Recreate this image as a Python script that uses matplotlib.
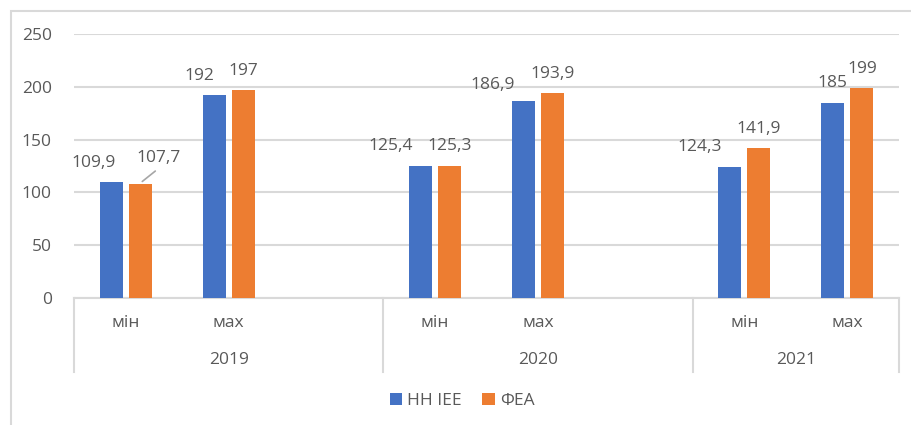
import numpy as np
import matplotlib.pyplot as plt
from matplotlib.patches import Rectangle

# data
years = ['2019', '2020', '2021']
sub_labels = ['мін', 'мах', '', 'мін', 'мах', '', 'мін', 'мах']
series_names = ['НН ІЕЕ', 'ФЕА']
nn_iee = [109.9, 192, np.nan, 125.4, 186.9, np.nan, 124.3, 185]
fea = [107.7, 197, np.nan, 125.3, 193.9, np.nan, 141.9, 199]
y_ticks = [0, 50, 100, 150, 200, 250]

# label offsets in points (dx, dy), same order as the values
nn_offsets = [(-12.6, 14), (-10.8, 14), None, (-21.6, 14), (-22.3, 11), None, (-21.6, 14), (0, 14)]
fea_offsets = [(13, 19), (0, 14), None, (0, 14), (0, 14), None, (0, 14), (0, 13.5)]

blue = '#4472C4'
orange = '#ED7D31'
grid_col = '#D9D9D9'
text_col = '#595959'
fs = 12.5

plt.rcParams['font.family'] = ['Open Sans', 'DejaVu Sans']

fig = plt.figure(figsize=(9.12, 4.25), dpi=100)
ax = fig.add_axes([74 / 912, 1 - 298 / 425, 825 / 912, 264 / 425])

x = np.arange(len(sub_labels))
w = 0.223
off = 0.141
b1 = ax.bar(x - off, nn_iee, w, color=blue, label=series_names[0], zorder=3)
b2 = ax.bar(x + off, fea, w, color=orange, label=series_names[1], zorder=3)


def fmt(v):
    return ('%g' % v).replace('.', ',')


for vals, offs, shift in [(nn_iee, nn_offsets, -off), (fea, fea_offsets, off)]:
    for i, v in enumerate(vals):
        if np.isnan(v):
            continue
        dx, dy = offs[i]
        ax.annotate(fmt(v), (i + shift, v), xytext=(dx, dy), textcoords='offset points',
                    ha='center', va='center', fontsize=fs, color=text_col)

# leader line for 107,7
ax.annotate('', (0 + off, fea[0] + 1), xytext=(12.5, 10), textcoords='offset points',
            arrowprops=dict(arrowstyle='-', color='#A6A6A6', lw=1.2))

ax.set_xlim(-0.5, len(sub_labels) - 0.5)
ax.set_ylim(0, 250)
ax.set_yticks(y_ticks)
ax.set_yticklabels([str(t) for t in y_ticks], fontsize=fs, color=text_col)
ax.tick_params(axis='y', length=0, pad=16)
ax.set_xticks([])
for s in ['top', 'right', 'left']:
    ax.spines[s].set_visible(False)
ax.spines['bottom'].set_color(grid_col)
ax.spines['bottom'].set_linewidth(1.5)
ax.grid(axis='y', color=grid_col, linewidth=1.5, zorder=0)

# multi-level category axis
trans = ax.get_xaxis_transform()
for i, lab in enumerate(sub_labels):
    if lab:
        ax.text(i, -0.095, lab, transform=trans, ha='center', va='center',
                fontsize=fs, color=text_col)
bounds = [-0.5, 2.5, 5.5, 7.5]
for bx in bounds:
    ax.plot([bx, bx], [0, -0.28], transform=trans, color=grid_col, lw=1.5, clip_on=False)
for k, yr in enumerate(years):
    ax.text((bounds[k] + bounds[k + 1]) / 2, -0.235, yr, transform=trans, ha='center',
            va='center', fontsize=fs, color=text_col)

fig.legend(handles=[b1, b2], loc='center', bbox_to_anchor=(462 / 912, 1 - 401 / 425),
           ncol=2, frameon=False, fontsize=fs, handlelength=0.7, handleheight=0.7,
           handletextpad=0.3, columnspacing=1.2, labelcolor=text_col)

# chart area border (cut off at right and bottom in the reference)
fig.patches.append(Rectangle((11 / 912, -0.1), 1.0, 1 - 11 / 425 + 0.1, transform=fig.transFigure,
                             fill=False, edgecolor=grid_col, lw=1.5))

fig.savefig('out.png', dpi=100)
